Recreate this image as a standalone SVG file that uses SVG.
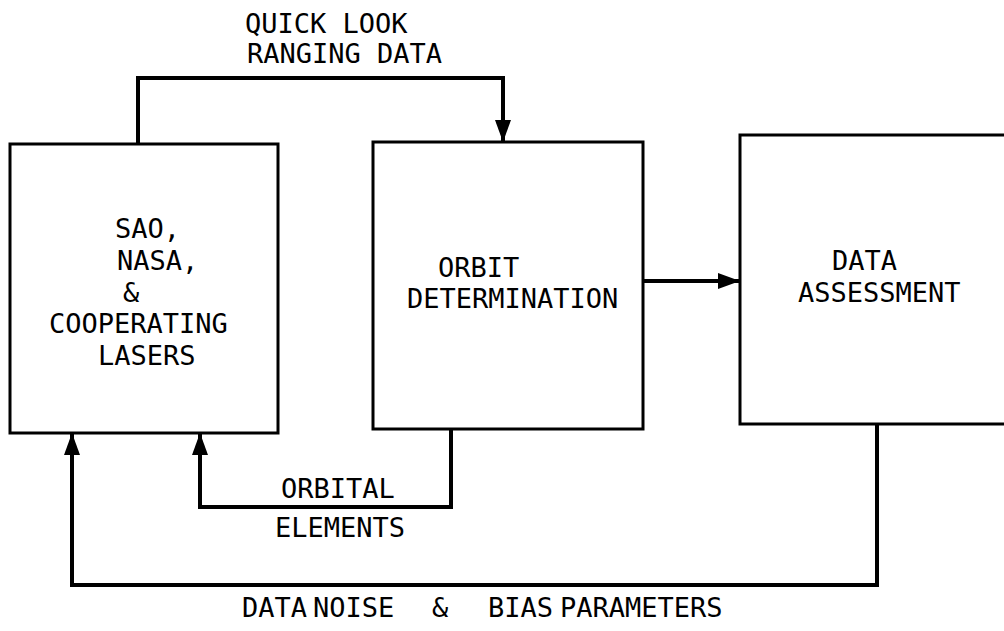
<svg xmlns="http://www.w3.org/2000/svg" width="1004" height="631" viewBox="0 0 1004 631">
<style>
.box{fill:none;stroke:#000;stroke-width:3}
.con{fill:none;stroke:#000;stroke-width:4}
text{font-family:"DejaVu Sans Mono","Liberation Mono",monospace;font-size:27px;fill:#000}
</style>
<defs>
<marker id="ah" viewBox="0 0 22 16" refX="22" refY="8" markerWidth="22" markerHeight="16" markerUnits="userSpaceOnUse" orient="auto">
<path d="M0,0 L22,8 L0,16 z" fill="#000"/>
</marker>
</defs>
<rect width="1004" height="631" fill="#fff"/>
<g id="sao">
<rect class="box" x="10" y="144" width="268" height="289"/>
<text x="115" y="238">SAO,</text>
<text x="117" y="270">NASA,</text>
<text x="123" y="302">&amp;</text>
<text x="49" y="333">COOPERATING</text>
<text x="98" y="365">LASERS</text>
</g>
<g id="orbit">
<rect class="box" x="373" y="142" width="270" height="287"/>
<text x="438" y="277">ORBIT</text>
<text x="407" y="308">DETERMINATION</text>
</g>
<g id="assess">
<rect class="box" x="740" y="135" width="280" height="289"/>
<text x="832" y="270">DATA</text>
<text x="798" y="302">ASSESSMENT</text>
</g>
<g id="connectors">
<path class="con" d="M138,144 V78 H503 V142" marker-end="url(#ah)"/>
<path class="con" d="M643,281 H740" marker-end="url(#ah)"/>
<path class="con" d="M451,429 V507 H200 V433" marker-end="url(#ah)"/>
<path class="con" d="M877,424 V585 H72 V433" marker-end="url(#ah)"/>
<text x="245" y="33">QUICK LOOK</text>
<text x="247" y="63">RANGING DATA</text>
<text x="281" y="498">ORBITAL</text>
<text x="275" y="537">ELEMENTS</text>
<text y="617"><tspan x="242">DATA</tspan><tspan x="313">NOISE</tspan><tspan x="432">&amp;</tspan><tspan x="488">BIAS</tspan><tspan x="560">PARAMETERS</tspan></text>
</g>
</svg>
